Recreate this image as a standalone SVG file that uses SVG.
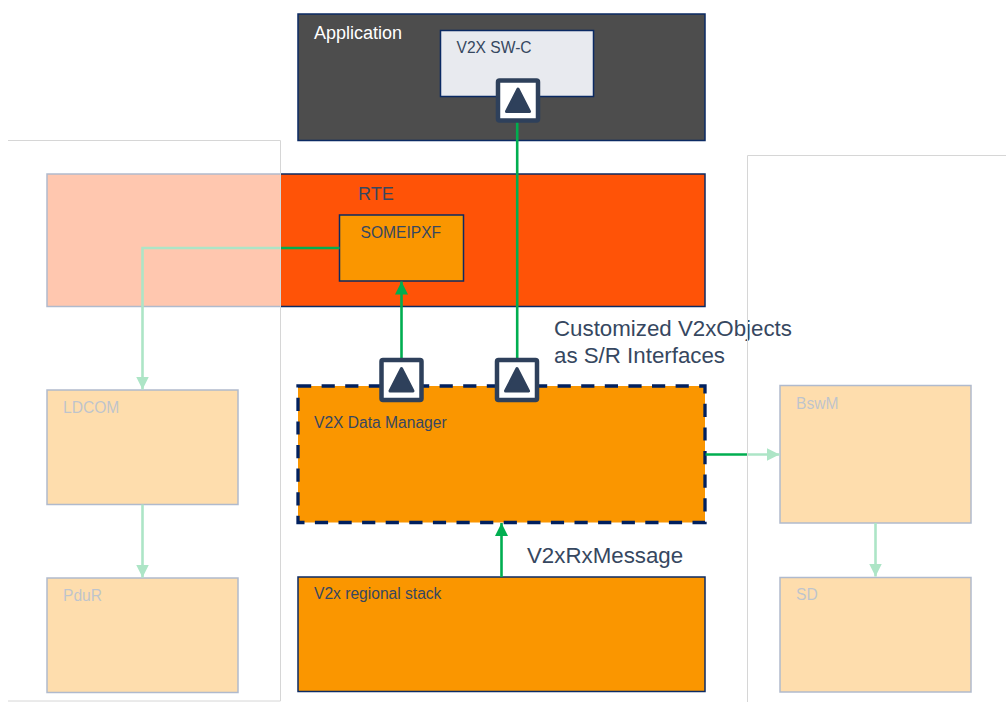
<svg xmlns="http://www.w3.org/2000/svg" width="1006" height="702" viewBox="0 0 1006 702">
<style>
text{font-family:"Liberation Sans",Arial,sans-serif;fill:#364760}
.s{font-size:15.600px}
.m{font-size:18px}
.l{font-size:22.300px}
.b{stroke:#0b2a63;stroke-width:1.500}
.c{fill:none;stroke:#00ae50;stroke-width:2.600}
.p{fill:#fff;fill-opacity:.68;stroke:none}
.e{fill:none;stroke:#d6d6d6;stroke-width:1}
.port{fill:#fff;stroke:#2e405b;stroke-width:4.500}
.tri{fill:#2e405b;stroke:#2e405b;stroke-width:3;stroke-linejoin:round}
</style>
<defs>
<marker id="a" markerUnits="userSpaceOnUse" markerWidth="14" markerHeight="14" refX="13" refY="6.500" orient="auto"><path d="M0 0L13 6.500L0 13Z" fill="#00ae50"/></marker>
<symbol id="pt" overflow="visible"><rect class="port" x="-20" y="-20" width="40" height="40" rx="1.500"/><path class="tri" d="M0-11.500L11.500 11-11.500 11Z"/></symbol>
</defs>
<g id="application"><rect class="b" x="298" y="14" width="407" height="126.500" fill="#4d4d4d"/><text x="314" y="38.500" class="m" style="fill:#fff">Application</text></g>
<g id="v2x-sw-c"><rect class="b" x="440.500" y="30.500" width="153" height="66" fill="#e8eaef"/><text x="456.500" y="53" class="s">V2X SW-C</text></g>
<g id="rte"><rect class="b" x="47" y="174" width="658" height="132.500" fill="#ff5307"/><text x="358" y="199.500" class="m">RTE</text></g>
<g id="someipxf"><rect class="b" x="339.500" y="215" width="124" height="66" fill="#fa9600"/><text x="360.500" y="237.500" class="s">SOMEIPXF</text></g>
<g id="v2x-data-manager"><rect x="298" y="386" width="407" height="136.500" fill="#fa9600" stroke="#00205f" stroke-width="3.300" stroke-dasharray="13.200 10.400"/><text x="314" y="427.500" class="s">V2X Data Manager</text></g>
<g id="v2x-regional-stack"><rect class="b" x="298" y="577" width="407" height="114.500" fill="#fa9600"/><text x="314" y="599" class="s">V2x regional stack</text></g>
<g id="ldcom"><rect class="b" x="47" y="390" width="191" height="114.500" fill="#fa9600"/><text x="63" y="413" class="s">LDCOM</text></g>
<g id="pdur"><rect class="b" x="47" y="578" width="191" height="114.500" fill="#fa9600"/><text x="63" y="600.500" class="s">PduR</text></g>
<g id="bswm"><rect class="b" x="780" y="385.500" width="191" height="137.500" fill="#fa9600"/><text x="796" y="408.500" class="s">BswM</text></g>
<g id="sd"><rect class="b" x="780" y="577.500" width="191" height="114.500" fill="#fa9600"/><text x="796" y="600" class="s">SD</text></g>
<g id="connectors">
<path class="c" d="M517.200 122V360"/>
<path class="c" d="M401.500 358V281.500" marker-end="url(#a)"/>
<path class="c" d="M501.500 577V523" marker-end="url(#a)"/>
<path class="c" d="M339.500 248H142.500V389.500" marker-end="url(#a)"/>
<path class="c" d="M142.500 504.500V577.500" marker-end="url(#a)"/>
<path class="c" d="M705.500 454.500H779.500" marker-end="url(#a)"/>
<path class="c" d="M875.500 523V576.500" marker-end="url(#a)"/>
</g>
<g id="port-app"><use href="#pt" x="518" y="100.500"/></g>
<g id="port-dm-1"><use href="#pt" x="401.500" y="380"/></g>
<g id="port-dm-2"><use href="#pt" x="517" y="380"/></g>
<g id="left-panel"><rect class="p" x="8" y="140.500" width="272.500" height="560.500"/><path class="e" d="M8 140.500H280.500V701H8"/></g>
<g id="right-panel-fill"><rect class="p" x="747.500" y="155.500" width="259" height="547"/></g>
<text x="554" y="336" class="l">Customized V2xObjects</text>
<text x="554" y="363" class="l">as S/R Interfaces</text>
<text x="527" y="563" class="l">V2xRxMessage</text>
<g id="right-panel-edge"><path class="e" d="M1006 155.500H747.500V702"/></g>
</svg>
